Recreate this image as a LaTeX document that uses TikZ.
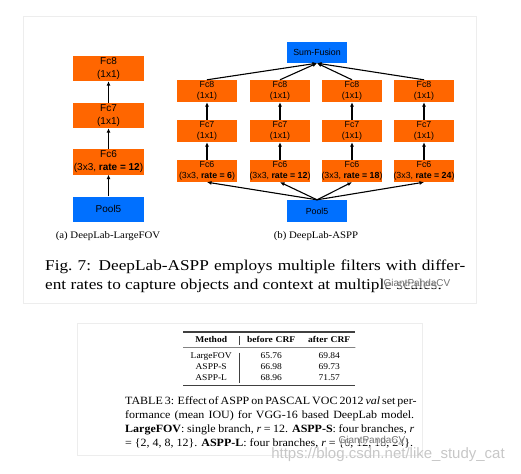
\documentclass[tikz,border=0pt]{standalone}
\usepackage{fontspec}
\setmainfont[FakeStretch=1.08]{Liberation Serif}
\newfontfamily\capfont[FakeStretch=1.15]{Liberation Serif}
\newfontfamily\boxfont{Liberation Sans}
\usepackage{tikz}
\usetikzlibrary{arrows.meta,positioning,matrix,calc}
\definecolor{netorange}{RGB}{255,102,0}
\definecolor{netblue}{RGB}{0,112,255}
\tikzset{
  layer/.style={fill=netorange, align=center, inner sep=0pt, minimum width=60pt, minimum height=22pt,
    font=\boxfont\fontsize{8.8}{11.5}\selectfont},
  layerbig/.style={layer, minimum width=71pt, minimum height=25pt, font=\boxfont\fontsize{10}{13}\selectfont},
  pool/.style={layer, fill=netblue},
  poolbig/.style={layerbig, fill=netblue},
  arr/.style={-{Latex[length=4.5pt,width=4pt]}, line width=1.1pt},
  frame/.style={draw=black!7, line width=0.8pt},
  subcap/.style={inner sep=0pt, font=\fontsize{10}{12}\selectfont},
  figcap/.style={inner sep=0pt, align=left, font=\capfont\fontsize{15}{19}\selectfont},
  tabcap/.style={inner sep=0pt, align=left, font=\fontsize{11.1}{14}\selectfont},
  restab/.style={matrix of nodes, inner sep=0pt,
    nodes={inner sep=0pt, minimum height=10.5pt, align=center, font=\fontsize{8.8}{10}\selectfont},
    column 1/.style={nodes={text width=56pt}},
    column 2/.style={nodes={text width=64pt}},
    column 3/.style={nodes={text width=52pt}},
    row 1/.style={nodes={minimum height=15pt, font=\bfseries\fontsize{8.8}{10}\selectfont}}},
  thickrule/.style={draw=black!75, line width=1.6pt},
  thinrule/.style={draw=black!75, line width=0.6pt},
  wmark/.style={inner sep=0pt, text=black!22, font=\boxfont\fontsize{15}{17}\selectfont},
  pandamark/.style={inner sep=1pt, fill=white, fill opacity=0.55, text opacity=1, text=black!55,
    font=\boxfont\fontsize{10}{12}\selectfont}
}

\begin{document}
\begin{tikzpicture}[x=1pt,y=-1pt]
\useasboundingbox (0,0) rectangle (521,473);

% Frames
\draw[frame] (23,16) rectangle (476,303);
\draw[frame] (77,323) rectangle (422,455);

% (a) DeepLab-LargeFOV
\node[layerbig] (lfc8) at (108.5,68.5) {Fc8\\(1x1)};
\node[layerbig] (lfc7) at (108.5,115.5) {Fc7\\(1x1)};
\node[layerbig] (lfc6) at (108.5,162) {Fc6\\(3x3, \textbf{rate = 12})};
\node[poolbig] (lpool) at (108.5,209) {Pool5};
\draw[arr] (lpool) -- (lfc6);
\draw[arr] (lfc6) -- (lfc7);
\draw[arr] (lfc7) -- (lfc8);
\node[subcap] (capa) at (108,236) {(a) DeepLab-LargeFOV};

% (b) DeepLab-ASPP
\node[pool] (sum) at (317,52.5) [minimum height=21pt] {Sum-Fusion};
\node[pool] (rpool) at (317,211) {Pool5};

\node[layer] (fc8a) at (207,91) {Fc8\\(1x1)};
\node[layer] (fc8b) at (280,91) {Fc8\\(1x1)};
\node[layer] (fc8c) at (352,91) {Fc8\\(1x1)};
\node[layer] (fc8d) at (424,91) {Fc8\\(1x1)};

\node[layer] (fc7a) at (207,131) {Fc7\\(1x1)};
\node[layer] (fc7b) at (280,131) {Fc7\\(1x1)};
\node[layer] (fc7c) at (352,131) {Fc7\\(1x1)};
\node[layer] (fc7d) at (424,131) {Fc7\\(1x1)};

\node[layer] (fc6a) at (207,171) {Fc6\\(3x3, \textbf{rate = 6})};
\node[layer] (fc6b) at (280,171) {Fc6\\(3x3, \textbf{rate = 12})};
\node[layer] (fc6c) at (352,171) {Fc6\\(3x3, \textbf{rate = 18})};
\node[layer] (fc6d) at (424,171) {Fc6\\(3x3, \textbf{rate = 24})};

\draw[arr] (rpool.north) -- (fc6a.south);
\draw[arr] (rpool.north) -- (fc6b.south);
\draw[arr] (rpool.north) -- (fc6c.south);
\draw[arr] (rpool.north) -- (fc6d.south);

\draw[arr] (fc6a) -- (fc7a);
\draw[arr] (fc6b) -- (fc7b);
\draw[arr] (fc6c) -- (fc7c);
\draw[arr] (fc6d) -- (fc7d);

\draw[arr] (fc7a) -- (fc8a);
\draw[arr] (fc7b) -- (fc8b);
\draw[arr] (fc7c) -- (fc8c);
\draw[arr] (fc7d) -- (fc8d);

\draw[arr] (fc8a.north) -- (sum.south);
\draw[arr] (fc8b.north) -- (sum.south);
\draw[arr] (fc8c.north) -- (sum.south);
\draw[arr] (fc8d.north) -- (sum.south);
\node[subcap] (capb) at (316,236) {(b) DeepLab-ASPP};

% Figure caption
\node[figcap, anchor=west] (figtext) at (45,276.5)
  {\makebox[420pt][s]{Fig.\ 7: DeepLab-ASPP employs multiple filters with differ-}\\
   ent rates to capture objects and context at multiple scales.};

% Table 3
\matrix (tab) [restab, anchor=north west] at (183,332) {
  Method & before CRF & after CRF \\[2.75pt]
  LargeFOV & 65.76 & 69.84 \\
  ASPP-S & 66.98 & 69.73 \\
  ASPP-L & 68.96 & 71.57 \\
};
\draw[thickrule] (tab.north west) -- (tab.north east);
\draw[thinrule] (tab-1-1.south west) -- (tab-1-3.south east);
\draw[thickrule] ($(tab.south west)+(0,2.75)$) -- ($(tab.south east)+(0,2.75)$);
\draw[thinrule] ($(tab-1-1.north east)+(0,4)$) -- ($(tab-1-1.south east)+(0,-2)$);
\draw[thinrule] ($(tab-2-1.north east)+(0,2)$) -- ($(tab-4-1.south east)+(0,0.5)$);

\node[tabcap, anchor=west] (tabtext) at (125,422)
  {\makebox[289pt][s]{TABLE 3: Effect of ASPP on PASCAL VOC 2012 \textit{val} set per-}\\
   \makebox[289pt][s]{formance (mean IOU) for VGG-16 based DeepLab model.}\\
   \makebox[289pt][s]{\textbf{LargeFOV}: single branch, \textit{r} = 12. \textbf{ASPP-S}: four branches, \textit{r}}\\
   = \{2, 4, 8, 12\}. \textbf{ASPP-L}: four branches, \textit{r} = \{6, 12, 18, 24\}.};

% Watermarks
\node[pandamark] (panda1) at (417,283) {GiantPandaCV};
\node[pandamark] (panda2) at (372,440) {GiantPandaCV};
\node[wmark] (csdn) at (388,455) {https://blog.csdn.net/like\_study\_cat};
\end{tikzpicture}
\end{document}
